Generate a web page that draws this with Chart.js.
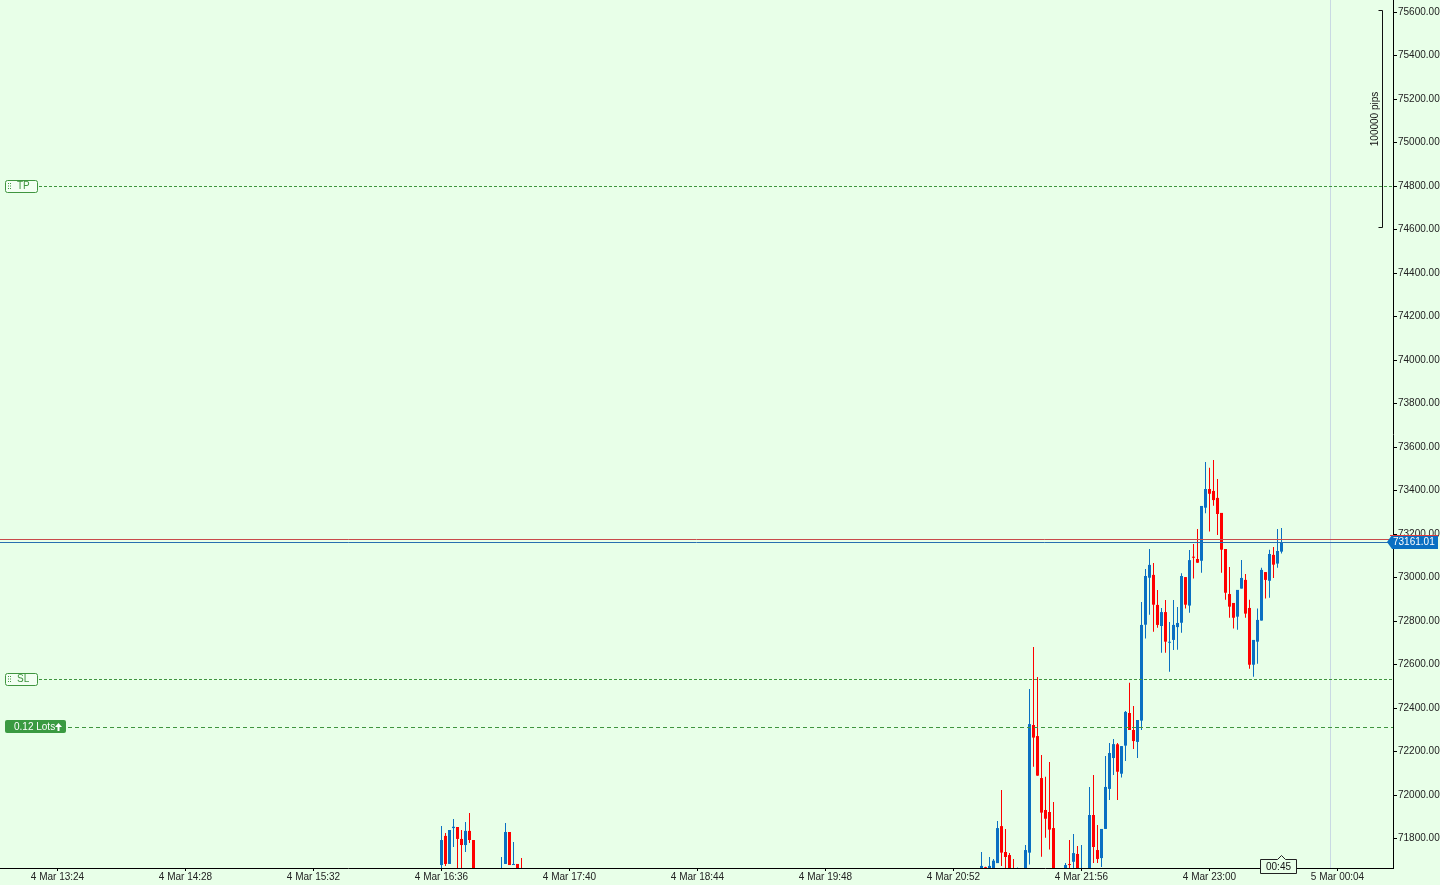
<!DOCTYPE html>
<html>
<head>
<meta charset="utf-8">
<script src="https://cdn.jsdelivr.net/npm/chart.js@4.4.1/dist/chart.umd.min.js"></script>
<style>
  html, body { margin: 0; padding: 0; background: #e8ffe8; overflow: hidden; }
  canvas { display: block; }
</style>
</head>
<body>
<canvas id="candles" width="1440" height="885"></canvas>
<script>
// 2-minute candles, 4 Mar (only the ones that reach into the visible price range)
const candleTimes = [
  "16:36", "16:38", "16:40", "16:42", "16:44", "16:46", "16:48", "16:50", "16:52",
  "17:06", "17:08", "17:10", "17:12", "17:14", "17:16",
  "21:06", "21:08", "21:10", "21:12", "21:14", "21:16", "21:18", "21:20", "21:22", "21:24",
  "21:28", "21:30", "21:32", "21:34", "21:36", "21:38", "21:40", "21:42",
  "21:48", "21:50", "21:52", "21:54", "21:56",
  "22:00", "22:02", "22:04", "22:06", "22:08", "22:10", "22:12", "22:14", "22:16", "22:18",
  "22:20", "22:22", "22:24", "22:26", "22:28", "22:30", "22:32", "22:34", "22:36", "22:38",
  "22:40", "22:42", "22:44", "22:46", "22:48", "22:50", "22:52", "22:54", "22:56", "22:58",
  "23:00", "23:02", "23:04", "23:06", "23:08", "23:10", "23:12", "23:14", "23:16", "23:18",
  "23:20", "23:22", "23:24", "23:26", "23:28", "23:30", "23:32", "23:34", "23:36"
];
const openPrices = [
  71678, 71812, 71683, 71848, 71853, 71798, 71770, 71835, 71793,
  71640, 71683, 71830, 71678, 71683, 71650,
  71640, 71668, 71640, 71650, 71687, 71857, 71738, 71724, 71660, 71620,
  71630, 71735, 72322, 72271, 72078, 71931, 71922, 71848,
  71650, 71681, 71693, 71729, 71620,
  71640, 71908, 71747, 71710, 71844, 72028, 72170, 72233, 72098, 72227,
  72377, 72299, 72244, 72342, 72783, 72999, 73012, 72874, 72777, 72841,
  72700, 72713, 72772, 72792, 73002, 72871, 73094, 73085, 73077, 73321,
  73407, 73398, 73366, 73297, 73131, 72924, 72883, 72820, 72949, 72989,
  72860, 72599, 72705, 72802, 73025, 72985, 73104, 73064, 73119
];
const highPrices = [
  71858, 71825, 71839, 71890, 71853, 71839, 71876, 71917, 71793,
  71715, 71871, 71830, 71784, 71683, 71710,
  71738, 71670, 71715, 71706, 71880, 72023, 71844, 71733, 71706, 71667,
  71770, 72487, 72680, 72543, 72184, 72084, 72152, 71968,
  71687, 71793, 71821, 71766, 71770,
  72037, 72092, 71862, 71844, 72179, 72239, 72257, 72239, 72225, 72386,
  72516, 72409, 72345, 72887, 73039, 73131, 73067, 72943, 72860, 72897,
  72795, 72897, 72864, 73019, 73002, 73126, 73154, 73223, 73329, 73531,
  73505, 73540, 73453, 73297, 73131, 73048, 72883, 72943, 73080, 73016,
  72898, 72713, 72857, 73045, 73025, 73128, 73140, 73223, 73228
];
const lowPrices = [
  71660, 71674, 71683, 71761, 71600, 71600, 71738, 71779, 71600,
  71600, 71683, 71678, 71678, 71600, 71600,
  71600, 71600, 71600, 71620, 71687, 71674, 71650, 71600, 71600, 71600,
  71600, 71680, 72130, 72089, 71716, 71804, 71749, 71600,
  71620, 71640, 71640, 71600, 71600,
  71600, 71687, 71687, 71669, 71844, 71977, 72092, 71977, 72080, 72156,
  72299, 72212, 72170, 72299, 72719, 72829, 72751, 72769, 72654, 72654,
  72567, 72667, 72668, 72746, 72857, 72838, 72995, 73068, 73022, 73295,
  73211, 73330, 73195, 73022, 72898, 72815, 72765, 72760, 72949, 72815,
  72581, 72544, 72604, 72802, 72903, 72907, 72998, 73045, 73110
];
const closePrices = [
  71793, 71683, 71839, 71854, 71798, 71770, 71835, 71793, 71620,
  71655, 71830, 71678, 71683, 71650, 71630,
  71674, 71630, 71674, 71698, 71848, 71735, 71715, 71650, 71630, 71660,
  71747, 72326, 72264, 72089, 71919, 71891, 71841, 71620,
  71678, 71678, 71733, 71640, 71650,
  71908, 71761, 71706, 71844, 72037, 72193, 72234, 72107, 72225, 72382,
  72299, 72248, 72345, 72782, 73007, 73058, 72875, 72782, 72841, 72705,
  72703, 72782, 72791, 73007, 72875, 73080, 73091, 73068, 73329, 73407,
  73385, 73356, 73292, 73128, 72930, 72866, 72815, 72943, 72998, 72834,
  72599, 72713, 72805, 73035, 72989, 73108, 73059, 73122, 73161.01
];

const priceTicks = [
  71800, 72000, 72200, 72400, 72600, 72800, 73000, 73200, 73400, 73600,
  73800, 74000, 74200, 74400, 74600, 74800, 75000, 75200, 75400, 75600
];
const timeTickLabels = [
  "4 Mar 13:24", "4 Mar 14:28", "4 Mar 15:32", "4 Mar 16:36", "4 Mar 17:40", "4 Mar 18:44",
  "4 Mar 19:48", "4 Mar 20:52", "4 Mar 21:56", "4 Mar 23:00", "5 Mar 00:04"
];

// trade levels
const takeProfit = 74800;
const stopLoss = 72532;
const entryPrice = 72313;
const bidPrice = 73161.01;
const askPrice = 73175;
const lotsText = "0.12 Lots";
const rulerTop = 75610, rulerBottom = 74610, rulerText = "100000 pips";
const countdownText = "00:45";
const daySeparator = "5 Mar 00:00";

const UP = "#0a6fc2";
const DOWN = "#ff0000";
const BG = "#e8ffe8";
const LEVEL = "#3f953f";
const FONT = '10px "Liberation Sans", Arial, sans-serif';

function toMinutes(label) {
  const m = label.match(/(\d+) Mar (\d+):(\d+)/);
  return (Number(m[1]) - 4) * 1440 + Number(m[2]) * 60 + Number(m[3]);
}

const candleX = candleTimes.map(t => toMinutes("4 Mar " + t));
const candleColors = openPrices.map((o, i) => (closePrices[i] >= o ? UP : DOWN));

function hline(ctx, y, x0, x1, color, dash) {
  ctx.save();
  ctx.strokeStyle = color;
  ctx.lineWidth = 1;
  ctx.setLineDash(dash || []);
  ctx.beginPath();
  ctx.moveTo(x0, Math.round(y) + 0.5);
  ctx.lineTo(x1, Math.round(y) + 0.5);
  ctx.stroke();
  ctx.restore();
}

function roundRect(ctx, x, y, w, h, r) {
  ctx.beginPath();
  ctx.moveTo(x + r, y);
  ctx.lineTo(x + w - r, y);
  ctx.quadraticCurveTo(x + w, y, x + w, y + r);
  ctx.lineTo(x + w, y + h - r);
  ctx.quadraticCurveTo(x + w, y + h, x + w - r, y + h);
  ctx.lineTo(x + r, y + h);
  ctx.quadraticCurveTo(x, y + h, x, y + h - r);
  ctx.lineTo(x, y + r);
  ctx.quadraticCurveTo(x, y, x + r, y);
  ctx.closePath();
}

// TP / SL tag on the left edge
function levelTag(ctx, y, text) {
  const top = Math.round(y) - 6;
  ctx.save();
  roundRect(ctx, 5.5, top + 0.5, 32, 12, 2);
  ctx.fillStyle = "#f2fff2";
  ctx.fill();
  ctx.strokeStyle = LEVEL;
  ctx.stroke();
  ctx.fillStyle = LEVEL;
  for (let r = 0; r < 3; r++) {
    ctx.fillRect(8, top + 3 + r * 2.5, 1, 1);
    ctx.fillRect(10, top + 3 + r * 2.5, 1, 1);
  }
  ctx.font = FONT;
  ctx.textBaseline = "middle";
  ctx.fillText(text, 17, top + 6.5);
  ctx.restore();
}

const overlay = {
  id: "overlay",
  beforeDraw(chart) {
    const ctx = chart.ctx;
    ctx.save();
    ctx.fillStyle = BG;
    ctx.fillRect(0, 0, chart.width, chart.height);
    ctx.restore();
  },
  beforeDatasetsDraw(chart) {
    const ctx = chart.ctx, area = chart.chartArea;
    const x = Math.round(chart.scales.x.getPixelForValue(toMinutes(daySeparator))) + 0.5;
    ctx.save();
    ctx.strokeStyle = "#c9d9e3";
    ctx.lineWidth = 1;
    ctx.beginPath();
    ctx.moveTo(x, area.top);
    ctx.lineTo(x, area.bottom);
    ctx.stroke();
    ctx.restore();
  },
  afterDatasetsDraw(chart) {
    const ctx = chart.ctx, area = chart.chartArea, ys = chart.scales.y;
    hline(ctx, ys.getPixelForValue(takeProfit), 39, area.right, LEVEL, [3, 2]);
    hline(ctx, ys.getPixelForValue(stopLoss), 39, area.right, LEVEL, [3, 2]);
    hline(ctx, ys.getPixelForValue(entryPrice), 68, area.right, LEVEL, [4, 3]);
    hline(ctx, ys.getPixelForValue(askPrice), area.left, area.right, "#c84a4a");
    hline(ctx, ys.getPixelForValue(bidPrice), area.left, area.right, "#2a6fb0");
  },
  afterDraw(chart) {
    const ctx = chart.ctx, area = chart.chartArea, ys = chart.scales.y;

    levelTag(ctx, ys.getPixelForValue(takeProfit), "TP");
    levelTag(ctx, ys.getPixelForValue(stopLoss), "SL");

    // position size tag
    const ey = Math.round(ys.getPixelForValue(entryPrice));
    ctx.save();
    roundRect(ctx, 5, ey - 7, 61, 13, 2);
    ctx.fillStyle = "#3a9a41";
    ctx.fill();
    ctx.fillStyle = "#ffffff";
    ctx.font = FONT;
    ctx.textBaseline = "middle";
    ctx.fillText(lotsText, 14, ey);
    ctx.beginPath();
    ctx.moveTo(58.5, ey - 4);
    ctx.lineTo(62, ey);
    ctx.lineTo(55, ey);
    ctx.closePath();
    ctx.fill();
    ctx.fillRect(57.5, ey, 2, 4);
    ctx.restore();

    // distance ruler at the top right
    const rx = Math.round(area.right) - 10.5;
    const r0 = Math.round(ys.getPixelForValue(rulerTop)) + 0.5;
    const r1 = Math.round(ys.getPixelForValue(rulerBottom)) + 0.5;
    ctx.save();
    ctx.strokeStyle = "#111";
    ctx.lineWidth = 1;
    ctx.beginPath();
    ctx.moveTo(rx - 4, r0);
    ctx.lineTo(rx, r0);
    ctx.lineTo(rx, r1);
    ctx.lineTo(rx - 4, r1);
    ctx.stroke();
    ctx.translate(rx - 7, (r0 + r1) / 2);
    ctx.rotate(-Math.PI / 2);
    ctx.fillStyle = "#111";
    ctx.font = FONT;
    ctx.textAlign = "center";
    ctx.textBaseline = "middle";
    ctx.fillText(rulerText, 0, 0);
    ctx.restore();

    // bid price tag on the axis
    const by = Math.round(ys.getPixelForValue(bidPrice));
    const bx = area.right - 6;
    ctx.save();
    ctx.fillStyle = UP;
    ctx.beginPath();
    ctx.moveTo(bx, by);
    ctx.lineTo(bx + 5, by - 7);
    ctx.lineTo(1438, by - 7);
    ctx.lineTo(1438, by + 7);
    ctx.lineTo(bx + 5, by + 7);
    ctx.closePath();
    ctx.fill();
    ctx.strokeStyle = "#e23a3a";
    ctx.beginPath();
    ctx.moveTo(bx + 3, by - 6.5);
    ctx.lineTo(1438, by - 6.5);
    ctx.stroke();
    ctx.fillStyle = "#ffffff";
    ctx.font = FONT;
    ctx.textBaseline = "middle";
    ctx.fillText(bidPrice.toFixed(2), bx + 6, by + 0.5);
    ctx.restore();

    // candle countdown box
    const cx = Math.round(chart.scales.x.getPixelForValue(candleX[candleX.length - 1]));
    const cy = Math.round(area.bottom);
    ctx.save();
    ctx.beginPath();
    ctx.moveTo(cx - 21.5, cy - 8.5);
    ctx.lineTo(cx - 4.5, cy - 8.5);
    ctx.lineTo(cx - 0.5, cy - 12.5);
    ctx.lineTo(cx + 3.5, cy - 8.5);
    ctx.lineTo(cx + 14.5, cy - 8.5);
    ctx.lineTo(cx + 14.5, cy + 5.5);
    ctx.lineTo(cx - 21.5, cy + 5.5);
    ctx.closePath();
    ctx.fillStyle = BG;
    ctx.fill();
    ctx.strokeStyle = "#222";
    ctx.stroke();
    ctx.fillStyle = "#111";
    ctx.font = FONT;
    ctx.textAlign = "center";
    ctx.textBaseline = "middle";
    ctx.fillText(countdownText, cx - 3.5, cy - 1);
    ctx.restore();
  }
};

function noPadding(s) {
  s.paddingTop = 0;
  s.paddingBottom = 0;
  s.paddingLeft = 0;
  s.paddingRight = 0;
}

new Chart(document.getElementById("candles"), {
  type: "bar",
  data: {
    datasets: [
      {
        label: "wick",
        data: candleX.map((x, i) => ({ x: x, y: [lowPrices[i], highPrices[i]] })),
        backgroundColor: candleColors,
        barThickness: 1,
        maxBarThickness: 1,
        grouped: false,
        borderWidth: 0,
        inflateAmount: 0,
        minBarLength: 1
      },
      {
        label: "body",
        data: candleX.map((x, i) => ({ x: x, y: [openPrices[i], closePrices[i]] })),
        backgroundColor: candleColors,
        barThickness: 3,
        maxBarThickness: 3,
        grouped: false,
        borderWidth: 0,
        inflateAmount: 0,
        minBarLength: 1
      }
    ]
  },
  options: {
    responsive: false,
    animation: false,
    devicePixelRatio: 1,
    layout: { padding: 0 },
    plugins: { legend: { display: false }, tooltip: { enabled: false } },
    scales: {
      x: {
        type: "linear",
        min: 775.25,
        max: 1471.75,
        offset: false,
        grid: { offset: false, drawOnChartArea: false, drawTicks: true, tickLength: 3, color: "#000" },
        border: { display: true, color: "#000" },
        afterBuildTicks: s => { s.ticks = timeTickLabels.map(l => ({ value: toMinutes(l) })); },
        afterFit: s => { s.height = 17; noPadding(s); },
        ticks: {
          autoSkip: false,
          maxRotation: 0,
          padding: 0,
          color: "#222",
          font: { family: '"Liberation Sans", Arial, sans-serif', size: 10 },
          callback: (v, i) => timeTickLabels[i]
        }
      },
      y: {
        type: "linear",
        position: "right",
        min: 71664.4,
        max: 75655.2,
        grid: { drawOnChartArea: false, drawTicks: true, tickLength: 4, color: "#000" },
        border: { display: true, color: "#000" },
        afterBuildTicks: s => { s.ticks = priceTicks.map(v => ({ value: v })); },
        afterFit: s => { s.width = 47; noPadding(s); },
        ticks: {
          padding: 1,
          color: "#222",
          font: { family: '"Liberation Sans", Arial, sans-serif', size: 10 },
          callback: v => Number(v).toFixed(2)
        }
      }
    }
  },
  plugins: [overlay]
});
</script>
</body>
</html>
